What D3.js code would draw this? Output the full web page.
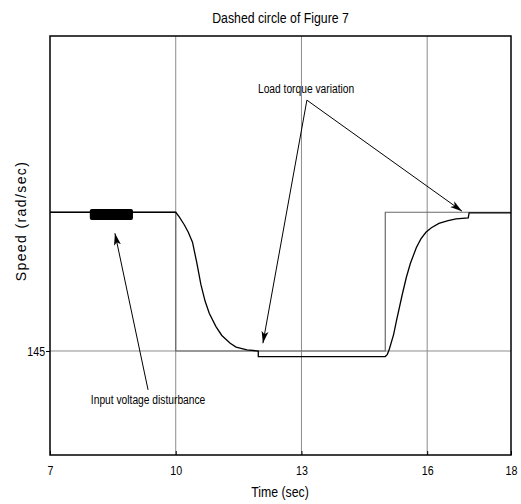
<!DOCTYPE html>
<html lang="en">
<head>
<meta charset="utf-8">
<title>Dashed circle of Figure 7</title>
<script src="https://cdn.jsdelivr.net/npm/d3@7"></script>
<style>
  body { margin: 0; background: #fff; }
  text { font-family: "Liberation Sans", Arial, sans-serif; fill: #000; }
</style>
</head>
<body>
<script>
// reference speed (step command)
var refTime  = [7, 10, 10, 15, 15, 18];
var refSpeed = [146.25, 146.25, 145, 145, 146.25, 146.25];

// measured speed
var time  = [7, 10.0, 10.08, 10.2, 10.3, 10.4, 10.5, 10.6, 10.7, 10.8, 10.96, 11.1, 11.3, 11.44, 11.7, 11.97,
             11.97, 12.5, 15.0, 15.05, 15.1, 15.2, 15.26, 15.4, 15.5, 15.6, 15.74, 15.85, 15.97, 16.1, 16.28, 16.5, 16.69, 16.98,
             17.0, 18];
var speed = [146.25, 146.25, 146.21, 146.14, 146.07, 145.98, 145.8, 145.6, 145.45, 145.34, 145.22, 145.14, 145.07, 145.035, 145.01, 145.0,
             144.95, 144.95, 144.95, 144.97, 145.02, 145.15, 145.26, 145.5, 145.66, 145.79, 145.93, 146.01, 146.07, 146.11, 146.15, 146.175, 146.19, 146.2,
             146.245, 146.245];

// input voltage disturbance band
var distTime  = [7.95, 8.98];
var distSpeed = [146.18, 146.28];

var xTicks = [7, 10, 13, 16, 18];
var xGrid  = [10, 13, 16];
var yTicks = [145];

//Width and height
var w = 521, h = 504;
var mLeft = 50, mRight = 511, mTop = 36, mBottom = 455;
var narrow = "scale(0.82,1)";

var svg = d3.select("body").append("svg")
  .attr("width", w)
  .attr("height", h);

var x = d3.scaleLinear().domain([7, 18]).range([mLeft, mRight]);
var y = d3.scaleLinear().domain([144.063, 147.838]).range([mBottom, mTop]);

//grid
svg.selectAll("line.vgrid")
  .data(xGrid)
  .enter()
  .append("line")
  .attr("x1", function(d) { return x(d); })
  .attr("x2", function(d) { return x(d); })
  .attr("y1", mTop)
  .attr("y2", mBottom)
  .attr("stroke", "#8c8c8c")
  .attr("stroke-width", 1);

svg.selectAll("line.hgrid")
  .data(yTicks)
  .enter()
  .append("line")
  .attr("x1", mLeft)
  .attr("x2", mRight)
  .attr("y1", function(d) { return y(d); })
  .attr("y2", function(d) { return y(d); })
  .attr("stroke", "#8c8c8c")
  .attr("stroke-width", 1);

//reference line
var refLine = d3.line()
  .x(function(d, i) { return x(refTime[i]); })
  .y(function(d) { return y(d); });

svg.append("path")
  .attr("d", refLine(refSpeed))
  .attr("fill", "none")
  .attr("stroke", "#6a6a6a")
  .attr("stroke-width", 1.2);

//measured speed
var line = d3.line()
  .x(function(d, i) { return x(time[i]); })
  .y(function(d) { return y(d); });

svg.append("path")
  .attr("d", line(speed))
  .attr("fill", "none")
  .attr("stroke", "#000")
  .attr("stroke-width", 1.3);

//disturbance
svg.append("rect")
  .attr("x", x(distTime[0]))
  .attr("y", y(distSpeed[1]))
  .attr("width", x(distTime[1]) - x(distTime[0]))
  .attr("height", y(distSpeed[0]) - y(distSpeed[1]))
  .attr("rx", 2)
  .attr("fill", "#000");

//axes box
svg.append("rect")
  .attr("x", mLeft)
  .attr("y", mTop)
  .attr("width", mRight - mLeft)
  .attr("height", mBottom - mTop)
  .attr("fill", "none")
  .attr("stroke", "#000")
  .attr("stroke-width", 1.5);

var xAxis = d3.axisBottom(x).tickValues(xTicks).tickSizeInner(-4).tickSizeOuter(0).tickPadding(11);
var gx = svg.append("g").attr("transform", "translate(0," + mBottom + ")").call(xAxis);
gx.select(".domain").remove();
gx.selectAll("text").attr("font-size", "13px").attr("font-family", null).attr("transform", narrow);

var yAxis = d3.axisLeft(y).tickValues(yTicks).tickFormat(d3.format("d")).tickSizeInner(4).tickSizeOuter(0).tickPadding(2);
var gy = svg.append("g").attr("transform", "translate(" + mLeft + ",0)").call(yAxis);
gy.select(".domain").remove();
gy.selectAll("text").attr("font-size", "13px").attr("font-family", null).attr("transform", narrow);

//titles
function label(px, py, txt, size) {
  return svg.append("g")
    .attr("transform", "translate(" + px + "," + py + ")")
    .append("text")
    .attr("transform", narrow)
    .attr("text-anchor", "middle")
    .attr("font-size", size)
    .text(txt);
}

label((mLeft + mRight) / 2, 23, "Dashed circle of Figure 7", "15px");
label(280, 497, "Time (sec)", "15px");

svg.append("text")
  .attr("transform", "translate(26,221) rotate(-90)")
  .attr("text-anchor", "middle")
  .style("letter-spacing", "1.4px")
  .attr("font-size", "14px")
  .text("Speed (rad/sec)");

//annotations
var defs = svg.append("defs");
defs.append("marker")
  .attr("id", "head")
  .attr("viewBox", "0 0 12 10")
  .attr("refX", 12)
  .attr("refY", 5)
  .attr("markerWidth", 12)
  .attr("markerHeight", 10)
  .attr("markerUnits", "userSpaceOnUse")
  .attr("orient", "auto")
  .append("path")
  .attr("d", "M0,1.5 L12,5 L0,8.5 L3,5 Z")
  .attr("fill", "#000");

var arrows = [
  [[13.13, 147.26], [16.83, 146.26]],
  [[13.13, 147.26], [12.08, 145.07]],
  [[9.34, 144.65], [8.55, 146.06]]
];

svg.selectAll("line.arrow")
  .data(arrows)
  .enter()
  .append("line")
  .attr("x1", function(d) { return x(d[0][0]); })
  .attr("y1", function(d) { return y(d[0][1]); })
  .attr("x2", function(d) { return x(d[1][0]); })
  .attr("y2", function(d) { return y(d[1][1]); })
  .attr("stroke", "#000")
  .attr("stroke-width", 1)
  .attr("marker-end", "url(#head)");

label(x(13.11), y(147.32), "Load torque variation", "12.5px");
label(x(9.34), y(144.52), "Input voltage disturbance", "12.5px");
</script>
</body>
</html>
